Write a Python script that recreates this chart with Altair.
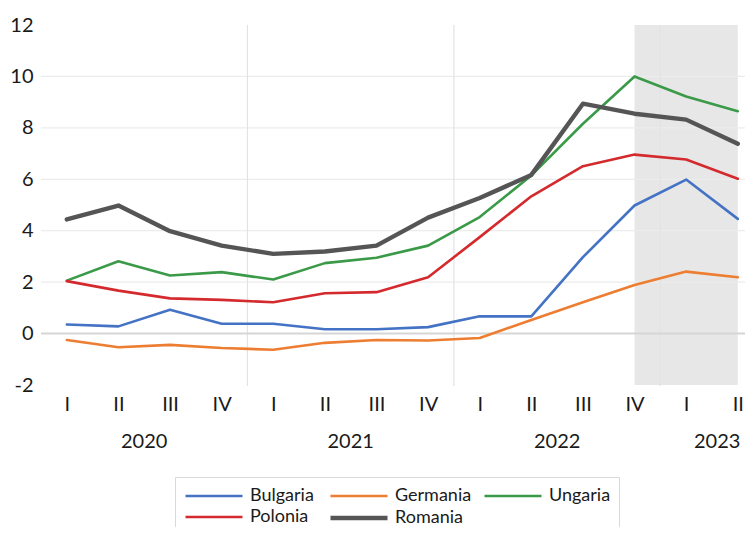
import altair as alt
import pandas as pd

# ---- data ----
quarters = ["I", "II", "III", "IV", "I", "II", "III", "IV", "I", "II", "III", "IV", "I", "II"]
years = [2020, 2020, 2020, 2020, 2021, 2021, 2021, 2021, 2022, 2022, 2022, 2022, 2023, 2023]
countries = ["Bulgaria", "Germania", "Ungaria", "Polonia", "Romania"]
bulgaria = [0.35, 0.28, 0.93, 0.38, 0.38, 0.17, 0.17, 0.25, 0.67, 0.67, 2.97, 4.98, 5.99, 4.46]
germania = [-0.25, -0.53, -0.44, -0.56, -0.63, -0.36, -0.25, -0.27, -0.17, 0.53, 1.22, 1.89, 2.41, 2.19]
ungaria = [2.06, 2.81, 2.26, 2.39, 2.10, 2.74, 2.95, 3.42, 4.53, 6.15, 8.16, 10.0, 9.22, 8.65]
polonia = [2.04, 1.67, 1.37, 1.31, 1.22, 1.57, 1.61, 2.19, 3.75, 5.34, 6.51, 6.96, 6.77, 6.02]
romania = [4.44, 4.98, 3.98, 3.42, 3.10, 3.19, 3.42, 4.51, 5.27, 6.17, 8.94, 8.55, 8.32, 7.38]
y_ticks = [-2, 0, 2, 4, 6, 8, 10, 12]
grid_values = [2, 4, 6, 8, 10]
shade_from = 11  # IV 2022
shade_to = 13    # II 2023

colors = ["#4472C4", "#ED7D31", "#3A9A48", "#D42A2E", "#555555"]
widths = [2.6, 2.6, 2.6, 2.6, 4.4]

FONT = "Lato"
W, H = 704, 360

n = len(quarters)
idx = list(range(n))
series = dict(zip(countries, [bulgaria, germania, ungaria, polonia, romania]))
rows = []
for c in countries:
    for i, v in zip(idx, series[c]):
        rows.append({"i": i, "q": quarters[i], "an": years[i], "tara": c, "v": v})
df = pd.DataFrame(rows)

# year label positions (center of each year's quarters; partial year nudged right)
year_list = sorted(set(years))
year_pos = []
for y in year_list:
    ii = [i for i in idx if years[i] == y]
    c = sum(ii) / len(ii)
    if len(ii) < 4:
        c += 0.1
    year_pos.append(c)
years_df = pd.DataFrame({"pos": year_pos, "label": [str(y) for y in year_list]})

# year boundaries for vertical gridlines
bounds = [i + 0.5 for i in idx[:-1] if years[i] != years[i + 1]]
bounds_df = pd.DataFrame({"b": bounds})

roman_expr = "[" + ",".join("'%s'" % q for q in quarters) + "][datum.value]"

xscale = alt.Scale(domain=[-0.5, n - 1 + 0.14], nice=False, zero=False)
yscale = alt.Scale(domain=[-2, 12], nice=False, zero=False)

xaxis = alt.Axis(values=idx, labelExpr=roman_expr, title=None, domain=False, ticks=False,
                 grid=False, labelFontSize=20, labelFont=FONT, labelColor="#1a1a1a",
                 labelPadding=9)
yaxis = alt.Axis(values=y_ticks, title=None, domain=False, ticks=False, grid=False,
                 labelExpr="'' + datum.value",
                 labelFontSize=20, labelFont=FONT, labelColor="#1a1a1a", labelPadding=8,
                 labelFlush=False)

shade = alt.Chart(pd.DataFrame({"a": [shade_from], "b": [shade_to]})).mark_rect(
    color="#e7e7e7"
).encode(
    x=alt.X("a:Q", scale=xscale, axis=xaxis),
    x2="b:Q",
    y=alt.value(0),
    y2=alt.value(H),
)

hgrid = alt.Chart(pd.DataFrame({"g": grid_values})).mark_rule(color="#ececec", strokeWidth=1.2).encode(
    y=alt.Y("g:Q", scale=yscale, axis=yaxis),
    x=alt.value(0),
    x2=alt.value(W),
)

zero = alt.Chart(pd.DataFrame({"g": [0]})).mark_rule(color="#d6d6d6", strokeWidth=2).encode(
    y=alt.Y("g:Q", scale=yscale, axis=yaxis),
    x=alt.value(0),
    x2=alt.value(W),
)

vgrid = alt.Chart(bounds_df).mark_rule(color="#e3e3e3", strokeWidth=1.2).encode(
    x=alt.X("b:Q", scale=xscale, axis=xaxis),
    y=alt.value(0),
    y2=alt.value(H + 1),
)

leg = alt.Legend(title=None, gridAlign="each", columns=3, columnPadding=7, rowPadding=1)

lines = alt.Chart(df).mark_line(strokeJoin="round", strokeCap="round").encode(
    x=alt.X("i:Q", scale=xscale, axis=xaxis),
    y=alt.Y("v:Q", scale=yscale, axis=yaxis),
    color=alt.Color("tara:O", scale=alt.Scale(type="ordinal", domain=countries, range=colors),
                    legend=leg),
    strokeWidth=alt.StrokeWidth("tara:O",
                                scale=alt.Scale(type="ordinal", domain=countries, range=widths),
                                legend=leg),
    order=alt.Order("i:Q"),
)

year_text = alt.Chart(years_df).mark_text(
    fontSize=20, font=FONT, color="#1a1a1a", baseline="middle", align="center"
).encode(
    x=alt.X("pos:Q", scale=xscale, axis=xaxis),
    y=alt.value(H + 57),
    text="label:N",
)

chart = alt.layer(shade, hgrid, vgrid, zero, lines, year_text).properties(
    width=W,
    height=H,
    autosize=alt.AutoSizeParams(type="none"),
    padding={"left": 33, "top": 17, "right": 0, "bottom": 142},
    background="white",
).configure_view(stroke=None).configure_legend(
    orient="none",
    legendX=134,
    legendY=452,
    direction="horizontal",
    columns=3,
    gridAlign="each",
    symbolType="M-1,0H5",
    symbolSize=361,
    labelFontSize=18,
    labelFont=FONT,
    labelColor="#1a1a1a",
    labelOffset=43,
    columnPadding=7,
    rowPadding=1,
    padding=8,
    strokeColor="#d9d9d9",
    fillColor="white",
)

chart.save("out.html", embed_options={"renderer": "svg", "actions": False})
